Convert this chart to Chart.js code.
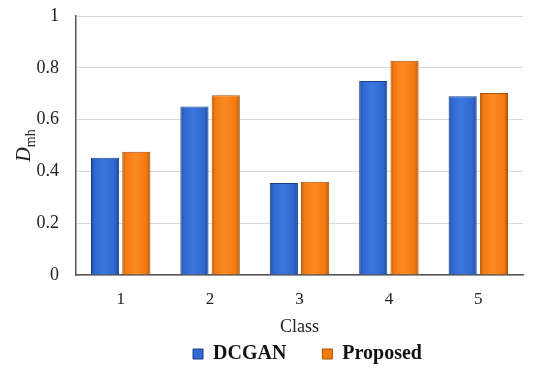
<!DOCTYPE html>
<html>
<head>
<meta charset="utf-8">
<script src="https://cdn.jsdelivr.net/npm/chart.js@4.4.1/dist/chart.umd.min.js"></script>
<style>
    body {margin: 0; background: white;}
    #wrap {width: 550px; height: 377px;}
</style>
</head>
<body>
<div id="wrap"><canvas id="dmhChart" width="550" height="377"></canvas></div>
<script>

// Data

var classes = ['1', '2', '3', '4', '5'];
var dcgan = [0.453, 0.651, 0.355, 0.749, 0.690];
var proposed = [0.476, 0.694, 0.360, 0.827, 0.703];
var y_ticks = [0, 0.2, 0.4, 0.6, 0.8, 1];

var serif = "'Liberation Serif', 'Times New Roman', serif";

Chart.defaults.font.family = serif;
Chart.defaults.color = '#222';


// shaded bar fill: dark edges, lighter middle
function bar_fill(edge, mid, light) {
    return function(context) {
        var el = context.element;
        if (!el || el.width === undefined || isNaN(el.x)) {
            return mid;}
        var c = context.chart.ctx;
        var x0 = el.x - el.width / 2;
        var g = c.createLinearGradient(x0, 0, x0 + el.width, 0);
        g.addColorStop(0, edge);
        g.addColorStop(0.12, mid);
        g.addColorStop(0.45, light);
        g.addColorStop(0.85, mid);
        g.addColorStop(1, edge);
        return g;
    };
}


// Y title with a subscript: D_mh
var ylabel_plugin = {
    id: 'ylabel',
    afterDraw: function(chart) {
        var ctx = chart.ctx;
        var area = chart.chartArea;
        ctx.save();
        ctx.translate(24, (area.top + area.bottom) / 2);
        ctx.rotate(-Math.PI / 2);
        ctx.fillStyle = '#222';
        ctx.textBaseline = 'alphabetic';
        ctx.font = 'italic 20px ' + serif;
        var w1 = ctx.measureText('D').width;
        ctx.font = '14px ' + serif;
        var w2 = ctx.measureText('mh').width;
        var x0 = -(w1 + w2) / 2;
        ctx.font = 'italic 20px ' + serif;
        ctx.fillText('D', x0, 6);
        ctx.font = '14px ' + serif;
        ctx.fillText('mh', x0 + w1, 11);
        ctx.restore();
    }
};

// nudge the legend a little right, as in the original
var legend_shift = {
    id: 'legendShift',
    afterLayout: function(chart) {
        chart.legend.left += 8;
        chart.legend.right += 8;
    }
};


var ctx = document.getElementById('dmhChart').getContext('2d');

var chart_object = new Chart(ctx, {
    type: 'bar',
    data: {
        labels: classes,
        datasets: [
            {
                label: 'DCGAN',
                data: dcgan,
                backgroundColor: bar_fill('#1d4896', '#2f68d0', '#3a78de'),
                borderColor: '#1c3f85',
                borderWidth: 1,},
            {
                label: 'Proposed',
                data: proposed,
                backgroundColor: bar_fill('#b85808', '#f47a10', '#fb8a22'),
                borderColor: '#a84e08',
                borderWidth: 1,},
        ],},

    options: {
        responsive: false,
        animation: false,
        barPercentage: 0.9,
        categoryPercentage: 0.7,
        layout: {padding: {left: 0, right: 27, top: 16, bottom: 3}},

        scales: {
            y: {
                min: 0,
                max: 1,
                afterBuildTicks: function(scale) {
                    scale.ticks = y_ticks.map(function(v) { return {value: v}; });},
                afterFit: function(scale) {
                    scale.width = 76;
                    scale.paddingTop = 0;},
                border: {color: '#555', width: 1.5},
                grid: {color: '#d9d9d9', drawTicks: false},
                ticks: {
                    padding: 17,
                    font: {size: 18},
                    color: '#222',
                    callback: function(v) { return String(v); },},},
            x: {
                afterFit: function(scale) { scale.height = 63; },
                border: {color: '#555', width: 1.5},
                grid: {display: false, drawTicks: false},
                ticks: {
                    padding: 14,
                    font: {size: 17},
                    color: '#222',},
                title: {
                    display: true,
                    text: 'Class',
                    font: {size: 18},
                    color: '#222',
                    padding: {top: 0, bottom: 0},},},
        },

        plugins: {
            legend: {
                position: 'bottom',
                fullSize: false,
                labels: {
                    boxWidth: 10,
                    boxHeight: 10,
                    padding: 6,
                    color: '#111',
                    font: {size: 20, weight: 'bold'},
                    generateLabels: function(chart) {
                        var items = Chart.defaults.plugins.legend.labels.generateLabels(chart);
                        items[0].text = items[0].text + '      ';
                        items.forEach(function(it, i) {
                            var ds = chart.data.datasets[i];
                            it.fillStyle = i == 0 ? '#2f68d0' : '#f47a10';
                            it.strokeStyle = ds.borderColor;
                            it.lineWidth = 1;});
                        return items;},},},
            tooltip: {enabled: false},
        },
    },
    plugins: [ylabel_plugin, legend_shift],
});

chart_object.update();

</script>
</body>
</html>
